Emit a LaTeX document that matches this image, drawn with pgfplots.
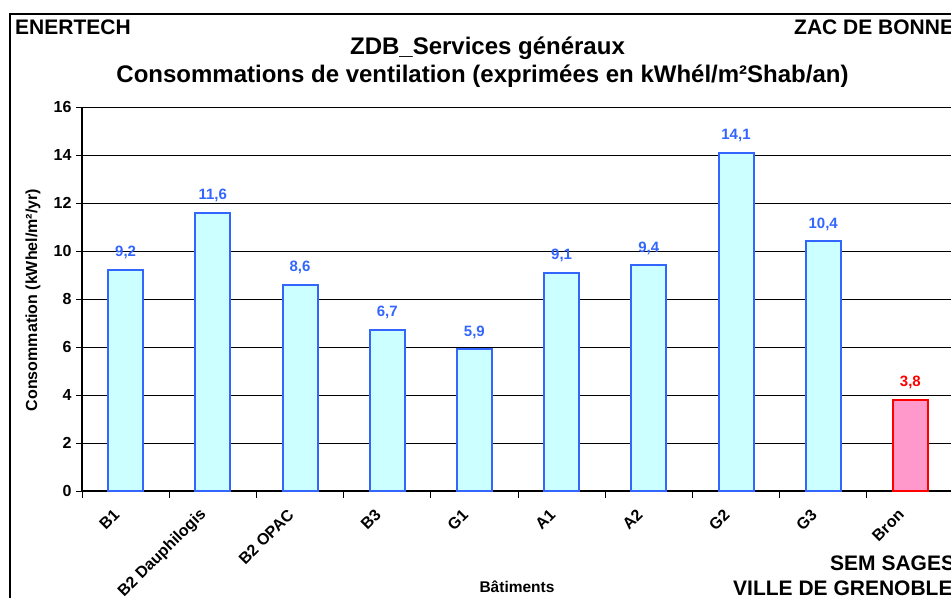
\documentclass[border=0pt]{standalone}
\usepackage{fontspec}
\setmainfont{Liberation Sans}
\usepackage{pgfplots}
\pgfplotsset{compat=1.18}
\definecolor{barfill}{RGB}{204,255,255}
\definecolor{baredge}{RGB}{51,102,255}
\definecolor{pinkfill}{RGB}{255,153,204}
\definecolor{rededge}{RGB}{255,0,0}
\definecolor{lblblue}{RGB}{51,102,255}
\begin{document}
\begin{tikzpicture}[x=1pt,y=1pt]
\useasboundingbox (0,0) rectangle (951,598);
\clip (0,0) rectangle (951,598);
\draw[line width=1.5pt] (10,0) -- (10,584) -- (955,584);
\node[anchor=base west, inner sep=0, font=\fontsize{21}{23}\selectfont\bfseries] at (15,563) {ENERTECH};
\node[anchor=base west, inner sep=0, font=\fontsize{21}{23}\selectfont\bfseries] at (794,563) {ZAC DE BONNE};
\node[anchor=base, inner sep=0, font=\fontsize{24}{26}\selectfont\bfseries] at (487.5,543) {ZDB\_Services généraux};
\node[anchor=base, inner sep=0, font=\fontsize{24}{26}\selectfont\bfseries] at (482.5,515) {Consommations de ventilation (exprimées en kWhél/m²Shab/an)};
\node[anchor=base west, inner sep=0, font=\fontsize{21}{23}\selectfont\bfseries] at (830,28) {SEM SAGES};
\node[anchor=base west, inner sep=0, font=\fontsize{21}{23}\selectfont\bfseries] at (733,3) {VILLE DE GRENOBLE};
\node[anchor=base, inner sep=0, font=\fontsize{15.5}{17}\selectfont\bfseries] at (517,6) {Bâtiments};
\node[anchor=center, inner sep=0, rotate=90, font=\fontsize{16}{18}\selectfont\bfseries] at (33,298) {Consommation (kWhel/m²/yr)};
\begin{axis}[
  at={(82pt,107pt)}, anchor=south west,
  scale only axis, width=872pt, height=384pt,
  xmin=-0.5, xmax=9.5, ymin=0, ymax=16,
  axis line style={line width=1.5pt, black},
  axis x line*=bottom, axis y line*=left,
  ytick={0,2,...,16},
  ymajorgrids, major grid style={line width=0.9pt, black},
  xtick={0,...,9},
  xticklabels={B1,B2 Dauphilogis,B2 OPAC,B3,G1,A1,A2,G2,G3,Bron},
  minor xtick={-0.5,0.5,...,9.5},
  x tick style={draw=none},
  minor x tick style={draw=black, line width=1pt},
  y tick style={line width=1pt, black},
  tick align=outside,
  major tick length=6pt, minor tick length=7pt,
  /pgf/number format/assume math mode=true,
  ticklabel style={font=\fontsize{16}{18}\selectfont\bfseries},
  yticklabel style={xshift=-1pt},
  xticklabel style={xshift=-9pt, yshift=-15pt, rotate=45, anchor=east, inner sep=0pt},
  ybar, bar width=35pt,
  nodes near coords,
  nodes near coords style={font=\fontsize{15}{17}\selectfont\bfseries, anchor=south, inner sep=0pt, yshift=10pt,
    /pgf/number format/fixed, /pgf/number format/precision=1, /pgf/number format/fixed zerofill, /pgf/number format/use comma, /pgf/number format/assume math mode=true},
  clip=false,
]
\addplot[bar shift=0pt, fill=barfill, draw=baredge, line width=2pt, nodes near coords style={text=lblblue}]
  coordinates {(0,9.2) (1,11.6) (2,8.6) (3,6.7) (4,5.9) (5,9.1) (6,9.4) (7,14.1) (8,10.4)};
\addplot[bar shift=0pt, fill=pinkfill, draw=rededge, line width=2pt, nodes near coords style={text=rededge}]
  coordinates {(9,3.8)};
\end{axis}
\end{tikzpicture}
\end{document}
